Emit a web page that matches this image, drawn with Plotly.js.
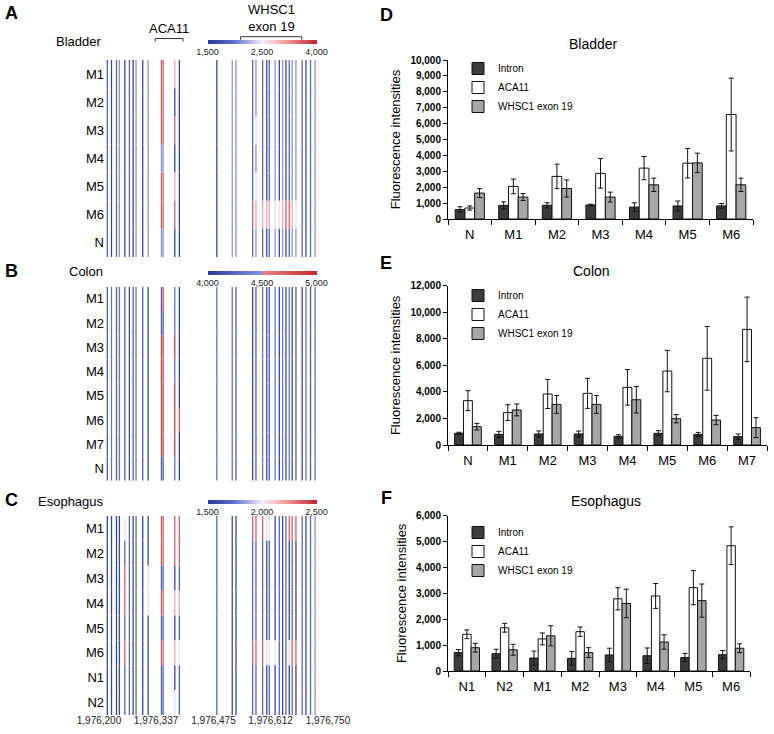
<!DOCTYPE html>
<html>
<head>
<meta charset="utf-8">
<script src="https://cdn.plot.ly/plotly-3.0.1.min.js"></script>
<style>
  html, body { margin: 0; padding: 0; background: #fff; }
  #chart { width: 774px; height: 734px; }
</style>
</head>
<body>
<div id="chart"></div>
<script>
// Left: intensity strips per CpG site (A-C). Right: grouped bars with SD (D-F).

// --- strip data ---
const sites = [1976220, 1976230, 1976242, 1976249, 1976262, 1976273, 1976282, 1976289, 1976305, 1976318,
               1976350, 1976354, 1976382, 1976393,
               1976483, 1976520, 1976529,
               1976569, 1976577, 1976593, 1976603, 1976609, 1976623, 1976633, 1976641, 1976649,
               1976657, 1976664, 1976673, 1976688, 1976697, 1976708, 1976719];
const positionTicks = [1976200, 1976337, 1976475, 1976612, 1976750];

// colour-scale position (n navy ... r red)
const levelValue = { n: 0.05, b: 0.18, l: 0.31, w: 0.47, p: 0.68, r: 0.86 };

const bladderRows = ['M1', 'M2', 'M3', 'M4', 'M5', 'M6', 'N'];
const bladderCells = [
  'bnblnbnlnl rrpn nll blbnblnlnbllbnbl',
  'bnblnbnlnl rrnn nll blbnblnlnbllbnbl',
  'bnblnbnlnl rrrn nll bwbnblnlnbllbnbl',
  'bnblnbnlnl llnn nll blbnblnlnbllbnbl',
  'bnblnbnlnl rrpn nll bwbnblnlnbllbnbl',
  'bnblnbnlnl rrrn nll rppppwwprrpwbnbl',
  'bnblnbnlnl llnn nll blbnblnlnbllbnbl'
];
const bladderScaleText = ['1,500', '2,500', '4,000'];

const colonRows = ['M1', 'M2', 'M3', 'M4', 'M5', 'M6', 'M7', 'N'];
const colonCells = [
  'blblbnblbn brln llb nblnblnlnlnbnlbl',
  'blblbnblbn bbln llb nblnblnlnlnbnlbl',
  'blblbnblbn rrrn llb nblnblnlnlnbnlbl',
  'blblbnblbn rrln llb nblnblnlnlnbnlbl',
  'blblbnblbn rrrn llb nblnblnlnlnbnlbl',
  'blblbnblbn rrrp llb nblnblnlnlnbnlbl',
  'blblbnblbn rrrn llb nblnblnlnlnbnlbl',
  'blblbnblbn bbln llb nblnblnlnlnbnlbl'
];
const colonScaleText = ['4,000', '4,500', '5,000'];

const esoRows = ['M1', 'M2', 'M3', 'M4', 'M5', 'M6', 'N1', 'N2'];
const esoCells = [
  'nnnnwbnbnn rrrr bnn rrrwwnbnbrrrbnbl',
  'nnnnbbnbnn rrrr bnn bbbnbnbnbnbnbnbl',
  'nnnnrbnbnw bbnb bnn bbbnbnbnbnbnbnbl',
  'nnnnrbnbnw rrpp bnn bbbnbnbnbnbnbnbl',
  'nnnnbbnbnn bbnb bnn bbbnbnbnbnbnbnbl',
  'nnnnrbnbnn rrpw bnn rrrwwwbnbwrrbnbl',
  'nnnnbbnbnn bbnb bnn bbbnbnbnbnbnbnbl',
  'nnnnbbnbnn bbwb bnn bbbnbnbnbnbnbnbl'
];
const esoScaleText = ['1,500', '2,000', '2,500'];

const brackets = [
  { label: 'ACA11', from: 1976335, to: 1976402, top: 38.5 },
  { label: 'WHSC1<br>exon 19', from: 1976540, to: 1976687, top: 36.7 }
];

// --- bar data ---
const seriesNames = ['Intron', 'ACA11', 'WHSC1 exon 19'];

const bladderCats = ['N', 'M1', 'M2', 'M3', 'M4', 'M5', 'M6'];
const bladderIntron = [600, 860, 860, 880, 750, 820, 820];
const bladderIntronErr = [170, 220, 160, 50, 270, 310, 150];
const bladderAca = [690, 2050, 2680, 2870, 3200, 3510, 6570];
const bladderAcaErr = [130, 460, 770, 930, 730, 930, 2290];
const bladderWhsc = [1630, 1380, 1920, 1380, 2150, 3530, 2150];
const bladderWhscErr = [280, 220, 540, 310, 420, 610, 420];

const colonCats = ['N', 'M1', 'M2', 'M3', 'M4', 'M5', 'M6', 'M7'];
const colonIntron = [880, 800, 830, 830, 650, 880, 800, 630];
const colonIntronErr = [80, 230, 230, 220, 120, 200, 150, 200];
const colonAca = [3340, 2440, 3840, 3890, 4340, 5570, 6530, 8710];
const colonAcaErr = [750, 590, 1090, 1130, 1340, 1560, 2400, 2430];
const colonWhsc = [1380, 2640, 3060, 3060, 3410, 1980, 1880, 1310];
const colonWhscErr = [250, 450, 670, 670, 1000, 310, 350, 750];

const esoCats = ['N1', 'N2', 'M1', 'M2', 'M3', 'M4', 'M5', 'M6'];
const esoIntron = [710, 670, 500, 490, 620, 590, 520, 630];
const esoIntronErr = [120, 170, 270, 260, 260, 300, 160, 160];
const esoAca = [1420, 1670, 1240, 1520, 2790, 2900, 3220, 4840];
const esoAcaErr = [170, 170, 230, 180, 430, 480, 660, 730];
const esoWhsc = [900, 820, 1360, 710, 2610, 1120, 2720, 880];
const esoWhscErr = [170, 210, 390, 190, 550, 280, 640, 170];

// --- layout helpers (pixel -> paper) ---
const W = 774, H = 734;
const fx = p => p / W;
const fy = p => 1 - p / H;
const FONT = 'Arial, "Liberation Sans", Helvetica, sans-serif';

const gradScale = [[0, '#2a3592'], [0.25, '#6274d4'], [0.5, '#f4f1f7'], [0.75, '#f08a90'], [1, '#bd1f2d']];
const splitScale = [[0, '#2e3a9e'], [0.5, '#8194e2'], [0.5, '#ef7f85'], [1, '#c0282e']];

function stripTraces(rows, cells, xa, ya, scale, scaleText, barTop) {
  return rows.map((name, r) => {
    const codes = cells[r].replace(/ /g, '').split('');
    const marker = {
      color: codes.map(c => levelValue[c]),
      colorscale: scale, cmin: 0, cmax: 1,
      line: { width: 0 },
      showscale: r === 0
    };
    if (r === 0) {
      marker.colorbar = {
        orientation: 'h', x: fx(262), xanchor: 'center', y: fy(barTop), yanchor: 'top',
        len: 109, lenmode: 'pixels', thickness: 4, outlinewidth: 0,
        tickvals: [0, 0.5, 1], ticktext: scaleText, ticks: '',
        tickfont: { size: 9, family: FONT, color: '#222' }, xpad: 0, ypad: 0
      };
    }
    return {
      type: 'bar', x: sites, y: sites.map(() => 1), base: r,
      width: 3.1, offset: -1.55, xaxis: xa, yaxis: ya,
      marker, showlegend: false, hoverinfo: 'skip', name
    };
  });
}

function barTraces(cats, vals, errs, xa, ya, legendId) {
  const fills = ['#3c3c3c', '#ffffff', '#a6a6a6'];
  return vals.map((v, i) => ({
    type: 'bar', x: cats, y: v, name: seriesNames[i],
    xaxis: xa, yaxis: ya, legend: legendId,
    marker: { color: fills[i], line: { color: '#111', width: 1 } },
    error_y: { type: 'data', array: errs[i], color: '#111', thickness: 1, width: 2.5 }
  }));
}

const traces = [
  ...stripTraces(bladderRows, bladderCells, 'x', 'y', gradScale, bladderScaleText, 40),
  ...stripTraces(colonRows, colonCells, 'x2', 'y2', splitScale, colonScaleText, 271),
  ...stripTraces(esoRows, esoCells, 'x3', 'y3', gradScale, esoScaleText, 500),
  ...barTraces(bladderCats, [bladderIntron, bladderAca, bladderWhsc],
               [bladderIntronErr, bladderAcaErr, bladderWhscErr], 'x4', 'y4', 'legend'),
  ...barTraces(colonCats, [colonIntron, colonAca, colonWhsc],
               [colonIntronErr, colonAcaErr, colonWhscErr], 'x5', 'y5', 'legend2'),
  ...barTraces(esoCats, [esoIntron, esoAca, esoWhsc],
               [esoIntronErr, esoAcaErr, esoWhscErr], 'x6', 'y6', 'legend3')
];

function stripX(anchor, labels) {
  return {
    domain: [fx(99), fx(328)], range: [1976200, 1976750], anchor,
    showgrid: false, zeroline: false, showline: false, ticks: '',
    showticklabels: labels, tickvals: positionTicks, tickformat: ',d',
    tickfont: { size: 10, color: '#222' }, ticklabelstandoff: -2
  };
}
function stripY(rows, anchor, top, bottom) {
  return {
    domain: [fy(bottom), fy(top)], range: [rows.length, 0], anchor,
    tickvals: rows.map((_, i) => i + 0.5), ticktext: rows,
    ticks: '', showgrid: false, zeroline: false, showline: false,
    tickfont: { size: 13 }, ticklabelstandoff: -6
  };
}
function barX(anchor, left, right) {
  return {
    domain: [fx(left), fx(right)], anchor, showgrid: false,
    showline: true, linecolor: '#000', linewidth: 1,
    ticks: 'outside', tickson: 'boundaries', ticklen: 5, tickcolor: '#000',
    tickfont: { size: 13 }, ticklabelstandoff: 3
  };
}
function barY(anchor, top, bottom, max, step) {
  return {
    domain: [fy(bottom), fy(top)], anchor, range: [0, max], dtick: step,
    tickformat: ',d', showgrid: false, zeroline: false,
    showline: true, linecolor: '#000', linewidth: 1,
    ticks: 'outside', ticklen: 4, tickcolor: '#000',
    tickfont: { size: 10, weight: 'bold' },
    title: { text: 'Fluorescence intensities', font: { size: 13 }, standoff: 6 }
  };
}
function legendAt(top) {
  return {
    x: fx(458), xanchor: 'left', y: fy(top), yanchor: 'top',
    bgcolor: 'rgba(0,0,0,0)', font: { size: 10 }, traceorder: 'normal'
  };
}

const label = (text, x, y, size, bold) => ({
  text, x: fx(x), y: fy(y), xref: 'paper', yref: 'paper', showarrow: false,
  xanchor: 'center', yanchor: 'middle',
  font: { size, weight: bold ? 'bold' : 'normal', color: '#000' }
});

const annotations = [
  label('A', 11, 13, 18, true), label('B', 11, 271, 18, true), label('C', 11, 500, 18, true),
  label('D', 386, 15, 18, true), label('E', 386, 263, 18, true), label('F', 386, 498, 18, true),
  label('Bladder', 78, 42, 13), label('Colon', 86, 271, 13), label('Esophagus', 71, 501, 13),
  label('Bladder', 593, 44, 14), label('Colon', 591, 271, 14), label('Esophagus', 606, 501, 14),
  ...brackets.map(b => ({
    text: b.label, x: (b.from + b.to) / 2, xref: 'x', y: fy(b.top - 0.5), yref: 'paper',
    xanchor: 'center', yanchor: 'bottom', showarrow: false, font: { size: 13, color: '#000' }
  }))
];

const shapes = brackets.map(b => ({
  type: 'path', xref: 'x', yref: 'paper',
  path: `M ${b.from},${fy(b.top + 3)} L ${b.from},${fy(b.top)} L ${b.to},${fy(b.top)} L ${b.to},${fy(b.top + 3)}`,
  line: { color: '#333', width: 1 }
}));

const layout = {
  width: W, height: H,
  margin: { l: 0, r: 0, t: 0, b: 0 },
  paper_bgcolor: '#fff', plot_bgcolor: 'rgba(0,0,0,0)',
  font: { family: FONT, color: '#000' },
  barmode: 'group', bargap: 0.33, bargroupgap: 0,
  xaxis: stripX('y', false), yaxis: stripY(bladderRows, 'x', 60, 257),
  xaxis2: stripX('y2', false), yaxis2: stripY(colonRows, 'x2', 286.7, 480.7),
  xaxis3: stripX('y3', true), yaxis3: stripY(esoRows, 'x3', 516, 715),
  xaxis4: barX('y4', 448, 753), yaxis4: barY('x4', 60, 219, 10000, 1000),
  xaxis5: barX('y5', 448, 767), yaxis5: barY('x5', 285.7, 445, 12000, 2000),
  xaxis6: barX('y6', 448, 750), yaxis6: barY('x6', 515.7, 671, 6000, 1000),
  legend: legendAt(54), legend2: legendAt(281), legend3: legendAt(518),
  annotations, shapes
};

Plotly.newPlot('chart', traces, layout, { displayModeBar: false, staticPlot: true });
</script>
</body>
</html>
